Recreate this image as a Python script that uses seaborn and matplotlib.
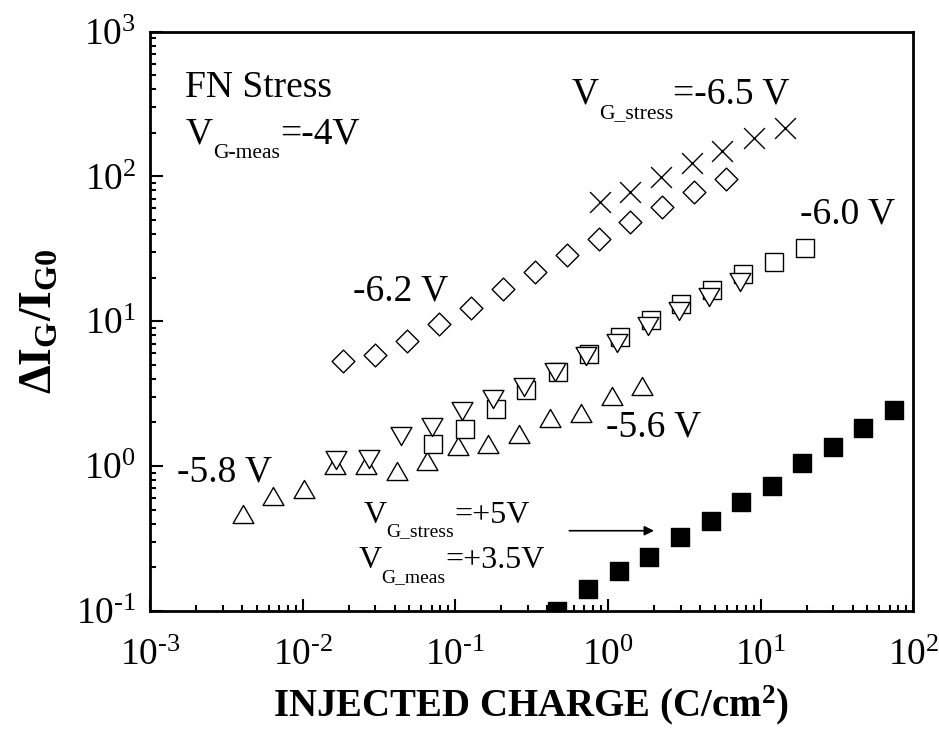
import numpy as np
import matplotlib
matplotlib.use("Agg")
import matplotlib.pyplot as plt
import seaborn as sns
from matplotlib.path import Path
from matplotlib.ticker import LogLocator, NullFormatter, FuncFormatter

# injected charge (C/cm^2) and dIG/IG0 for each stress voltage
q_65 = [0.885, 1.39, 2.24, 3.53, 5.60, 9.03, 14.4]
d_65 = [66.6, 78.1, 99.2, 123, 150, 183, 216]

q_62 = [0.0185, 0.030, 0.0484, 0.0785, 0.1265, 0.206, 0.333, 0.538, 0.871, 1.40, 2.26, 3.67, 5.92]
d_62 = [5.30, 5.80, 7.33, 9.55, 12.4, 16.6, 22.0, 28.6, 37.2, 48.2, 61.2, 77.5, 95.2]

q_60 = [0.0719, 0.115, 0.185, 0.291, 0.470, 0.750, 1.20, 1.90, 3.01, 4.81, 7.67, 12.3, 19.5]
d_60 = [1.41, 1.79, 2.48, 3.36, 4.42, 5.89, 7.76, 10.2, 13.2, 16.5, 21.1, 25.6, 32.0]

q_58 = [0.0165, 0.0273, 0.0439, 0.070, 0.111, 0.177, 0.282, 0.451, 0.716, 1.14, 1.82, 2.91, 4.60, 7.31]
d_58 = [1.09, 1.11, 1.61, 1.87, 2.39, 2.91, 3.50, 4.44, 5.71, 7.06, 9.25, 11.7, 14.7, 18.5]

q_56 = [0.00405, 0.00641, 0.0102, 0.0163, 0.0259, 0.0413, 0.0649, 0.104, 0.165, 0.262, 0.417, 0.666, 1.06, 1.67]
d_56 = [0.469, 0.616, 0.695, 1.01, 1.01, 0.929, 1.08, 1.37, 1.41, 1.65, 2.13, 2.32, 3.04, 3.57]

q_p5 = [0.465, 0.741, 1.18, 1.87, 2.96, 4.70, 7.45, 11.8, 18.7, 29.7, 46.9, 74.5]
d_p5 = [0.100, 0.141, 0.189, 0.234, 0.325, 0.417, 0.565, 0.731, 1.04, 1.36, 1.82, 2.44]

sns.set_style("ticks")
plt.rcParams["font.family"] = ["Liberation Serif", "DejaVu Serif"]
plt.rcParams["mathtext.fontset"] = "custom"
plt.rcParams["mathtext.rm"] = "Liberation Serif"
plt.rcParams["mathtext.it"] = "Liberation Serif:italic"
plt.rcParams["mathtext.bf"] = "Liberation Serif:bold"
plt.rcParams["mathtext.default"] = "regular"
plt.rcParams["axes.unicode_minus"] = False
for k in ["text.color", "axes.labelcolor", "xtick.color", "ytick.color", "axes.edgecolor"]:
    plt.rcParams[k] = "black"

fig = plt.figure(figsize=(9.39, 7.38), dpi=100)
ax = fig.add_axes([0.1597, 0.1725, 0.8129, 0.7847])

C = [Path.MOVETO, Path.LINETO, Path.LINETO, Path.CLOSEPOLY]
tri_up = Path([(-1, -0.866), (1, -0.866), (0, 0.866), (-1, -0.866)], C)
tri_dn = Path([(-1, 0.866), (1, 0.866), (0, -0.866), (-1, 0.866)], C)

open_kw = dict(facecolor="white", edgecolor="black", linewidth=1.0)
sns.scatterplot(x=q_56, y=d_56, marker=tri_up, s=15**2, ax=ax, **open_kw)
sns.scatterplot(x=q_60, y=d_60, marker="s", s=12.3**2, ax=ax, **open_kw)
sns.scatterplot(x=q_58, y=d_58, marker=tri_dn, s=15**2, ax=ax, **open_kw)
sns.scatterplot(x=q_62, y=d_62, marker="D", s=11.6**2, ax=ax, **open_kw)
sns.scatterplot(x=q_65, y=d_65, marker="x", s=15**2, color="black", linewidth=1.0, ax=ax)
sns.scatterplot(x=q_p5, y=d_p5, marker="s", s=12.5**2, color="black", edgecolor="black",
                linewidth=1.0, ax=ax)

ax.set_xscale("log")
ax.set_yscale("log")
ax.set_xlim(1e-3, 1e2)
ax.set_ylim(1e-1, 1e3)


def pow10(v, pos):
    e = int(round(np.log10(v)))
    return r"$\mathregular{10^{\text{%d}}}$" % e


for axis in (ax.xaxis, ax.yaxis):
    axis.set_major_locator(LogLocator(base=10, numticks=20))
    axis.set_major_formatter(FuncFormatter(pow10))
    axis.set_minor_locator(LogLocator(base=10, subs=np.arange(2, 10), numticks=100))
    axis.set_minor_formatter(NullFormatter())

for sp in ax.spines.values():
    sp.set_linewidth(2.0)
    sp.set_color("black")
ax.tick_params(which="both", direction="in", top=False, right=False, width=1.5, color="black")
ax.tick_params(which="major", length=9, labelsize=27)
ax.tick_params(which="minor", length=4.5)
ax.tick_params(axis="x", which="major", pad=20)
ax.tick_params(axis="y", which="major", pad=10)

ax.set_xlabel("INJECTED CHARGE (C/cm$\\mathbf{^{2}}$)", fontsize=28, fontweight="bold")
ax.set_ylabel(r"$\mathbf{\Delta I_G/I_{G0}}$", fontsize=33)
ax.xaxis.set_label_coords(0.5, -0.125)
ax.yaxis.set_label_coords(-0.115, 0.5)


def vlabel(x, y, sub, tail, size=27, subsize=15.5, drop=8.5):
    t1 = ax.text(x, y, "V", transform=ax.transAxes, fontsize=size, va="baseline")
    t2 = ax.annotate(sub, xy=(1, 0), xycoords=t1, xytext=(0, -drop),
                     textcoords="offset points", fontsize=subsize, va="bottom")
    ax.annotate(tail, xy=(1, 0), xycoords=(t2, t1), fontsize=size, va="bottom")


ax.text(0.0459, 0.8875, "FN Stress", transform=ax.transAxes, fontsize=27, va="baseline")
vlabel(0.0472, 0.8073, "G-meas", "=-4V")
vlabel(0.5525, 0.8762, "G_stress", "=-6.5 V")
vlabel(0.2794, 0.1520, "G_stress", "=+5V", size=23, subsize=14, drop=7.6)
vlabel(0.2729, 0.0732, "G_meas", "=+3.5V", size=23, subsize=14, drop=7.6)

for x, y, s in [(0.8516, 0.6690, "-6.0 V"), (0.2663, 0.5365, "-6.2 V"),
                (0.5972, 0.3005, "-5.6 V"), (0.0350, 0.2228, "-5.8 V")]:
    ax.text(x, y, s, transform=ax.transAxes, fontsize=27, va="baseline")

ax.annotate("", xy=(0.6603, 0.1381), xytext=(0.5494, 0.1381), xycoords="axes fraction",
            arrowprops=dict(arrowstyle="-|>", color="black", lw=1.2, mutation_scale=14,
                            shrinkA=0, shrinkB=0))

fig.savefig("out.png", dpi=100)
